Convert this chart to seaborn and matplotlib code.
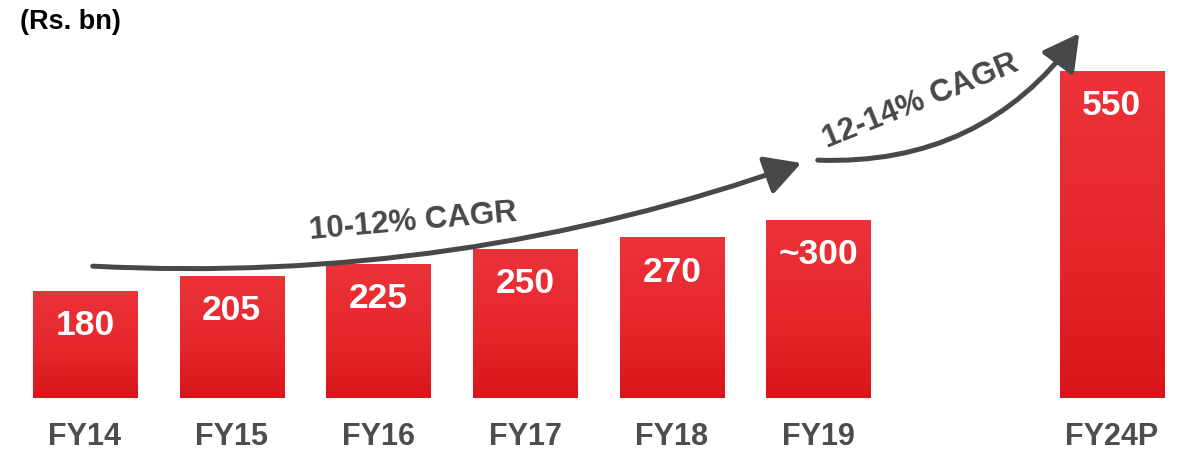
import matplotlib
matplotlib.use("Agg")
import matplotlib.pyplot as plt
import numpy as np
import pandas as pd
import seaborn as sns
from matplotlib.colors import LinearSegmentedColormap
from matplotlib.patches import FancyArrowPatch

# datos del grafico
years = ["FY14", "FY15", "FY16", "FY17", "FY18", "FY19", "FY24P"]
values = [180, 205, 225, 250, 270, 300, 550]
labels = ["180", "205", "225", "250", "270", "~300", "550"]
cagr_texts = ["10-12% CAGR", "12-14% CAGR"]

df = pd.DataFrame({"year": years, "value": values})
order = years[:6] + [" "] + years[6:]  # hueco antes de FY24P

sns.set_theme(style="white")
plt.rcParams["font.family"] = ["Liberation Sans", "DejaVu Sans"]

fig = plt.figure(figsize=(11.88, 4.51), dpi=100)
ax = fig.add_axes([0, 53 / 451, 1, 398 / 451])

sns.barplot(data=df, x="year", y="value", order=order, width=0.71,
            color="#e62a2f", ax=ax)

cmap = LinearSegmentedColormap.from_list(
    "rojo", [(0, "#d8161a"), (0.45, "#e5272c"), (1, "#eb3339")])
grad = np.linspace(1, 0, 256).reshape(-1, 1)
for p in ax.patches:
    x0, y0 = p.get_x(), p.get_y()
    w, h = p.get_width(), p.get_height()
    if np.isnan(h) or h == 0:
        continue
    im = ax.imshow(grad, extent=[x0, x0 + w, y0, y0 + h], aspect="auto",
                   cmap=cmap, vmin=0, vmax=1, zorder=2)
    im.set_clip_path(p)
    p.set_facecolor("none")
    p.set_edgecolor("none")

ax.set_xlim(-0.579, 7.519)
ax.set_ylim(0, 669)

# etiquetas de valor dentro de las barras
pos = [order.index(y) for y in years]
for xi, v, lab in zip(pos, values, labels):
    ax.annotate(lab, (xi, v), xytext=(0, -25), textcoords="offset points",
                ha="center", va="center", color="white", fontsize=25.5,
                fontweight="bold", zorder=5)

ax.set_xticks(range(len(order)))
ax.set_xticklabels(order, fontsize=22, fontweight="bold", color="#4d4d4d")
ax.tick_params(axis="x", length=0, pad=17)
ax.set_yticks([])
ax.set_xlabel("")
ax.set_ylabel("")
sns.despine(ax=ax, left=True, bottom=True)

# flechas curvas
gris = "#48484a"
def px(xp, yp):
    return ((xp - 85) / 146.7, (398 - yp) / 0.595)

a1 = FancyArrowPatch(px(90, 266), px(804, 162), connectionstyle="arc3,rad=0.1",
                     arrowstyle="-|>,head_length=1.1,head_width=0.6",
                     mutation_scale=20, color=gris, lw=3.6, clip_on=False,
                     zorder=4)
a2 = FancyArrowPatch(px(815, 160), px(1081, 31), connectionstyle="arc3,rad=0.27",
                     arrowstyle="-|>,head_length=1.1,head_width=0.6",
                     mutation_scale=20, color=gris, lw=3.6, clip_on=False,
                     zorder=4)
ax.add_patch(a1)
ax.add_patch(a2)

tx, ty = px(413, 222)
ax.text(tx, ty, cagr_texts[0], rotation=5, ha="center", va="center",
        fontsize=22.5, fontweight="bold", color=gris, rotation_mode="anchor")
tx, ty = px(921, 102)
ax.text(tx, ty, cagr_texts[1], rotation=22, ha="center", va="center",
        fontsize=22.5, fontweight="bold", color=gris, rotation_mode="anchor",
        clip_on=False)

fig.text(20 / 1188, 1 - 22 / 451, "(Rs. bn)", ha="left", va="center",
         fontsize=19.5, fontweight="bold", color="black")

fig.savefig("out.png", dpi=100)
